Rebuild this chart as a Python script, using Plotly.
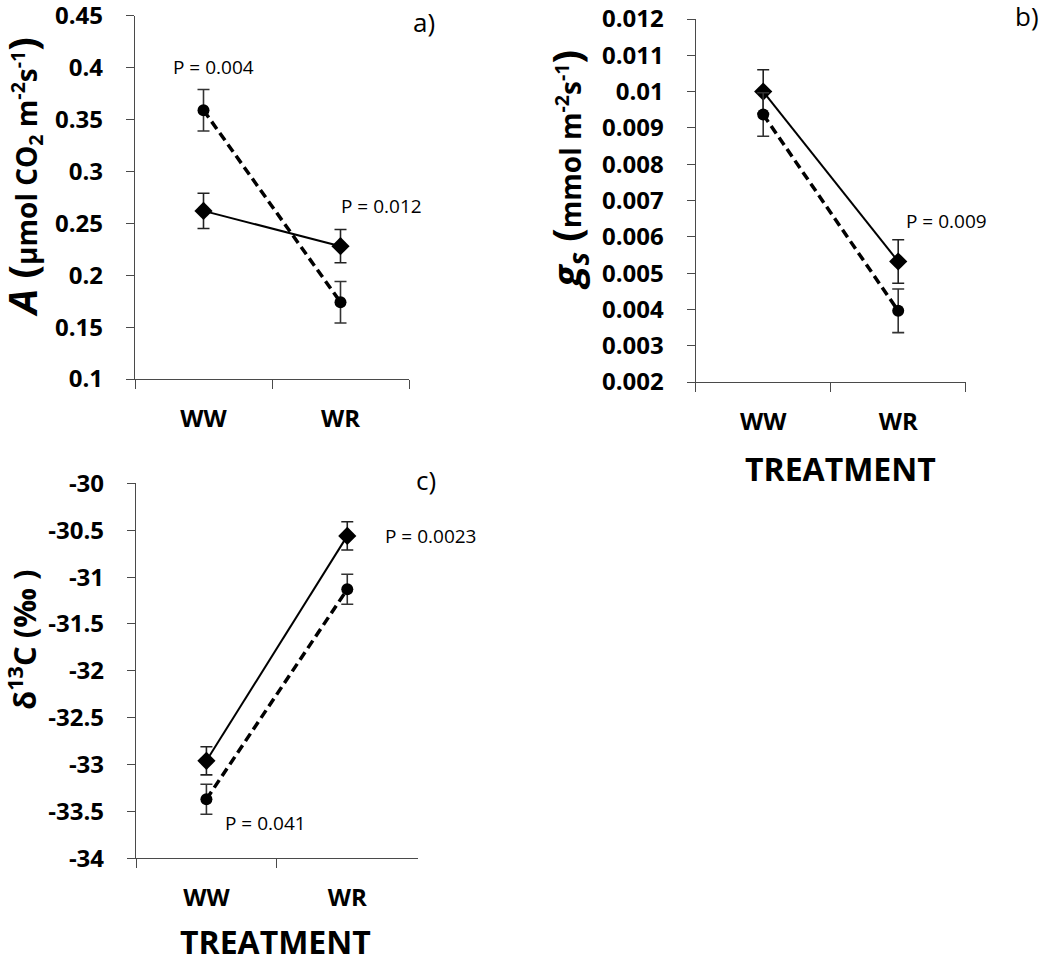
import plotly.graph_objects as go

W, H = 1050, 955

categories = ["WW", "WR"]

# Panel a) net photosynthesis A
A_solid = [0.262, 0.228]
A_solid_err = [0.017, 0.016]
A_dashed = [0.359, 0.174]
A_dashed_err = [0.020, 0.020]

# Panel b) stomatal conductance gs
gs_solid = [0.0100, 0.00532]
gs_solid_err = [0.0006, 0.0006]
gs_dashed = [0.00937, 0.00396]
gs_dashed_err = [0.0006, 0.0006]

# Panel c) delta 13C
d13_solid = [-32.96, -30.56]
d13_solid_err = [0.15, 0.15]
d13_dashed = [-33.37, -31.13]
d13_dashed_err = [0.16, 0.16]

a_ticks = [0.1, 0.15, 0.2, 0.25, 0.3, 0.35, 0.4, 0.45]
a_ticktext = ["0.1", "0.15", "0.2", "0.25", "0.3", "0.35", "0.4", "0.45"]
b_ticks = [0.002, 0.003, 0.004, 0.005, 0.006, 0.007, 0.008, 0.009, 0.010, 0.011, 0.012]
b_ticktext = ["0.002", "0.003", "0.004", "0.005", "0.006", "0.007", "0.008", "0.009", "0.01", "0.011", "0.012"]
c_ticks = [-34, -33.5, -33, -32.5, -32, -31.5, -31, -30.5, -30]
c_ticktext = ["-34", "-33.5", "-33", "-32.5", "-32", "-31.5", "-31", "-30.5", "-30"]

FONT = "Open Sans"
AXCOL = "#4a4a4a"


def px_x(p):
    return p / W


def px_y(p):
    return 1 - p / H


fig = go.Figure()


def add_pair(xa, ya, solid, solid_err, dashed, dashed_err):
    fig.add_trace(go.Scatter(
        x=categories, y=solid, xaxis=xa, yaxis=ya, mode="lines+markers",
        name="solid", showlegend=False,
        line=dict(color="black", width=2),
        marker=dict(symbol="diamond", size=14, color="black"),
        error_y=dict(type="data", array=solid_err, visible=True, color="#222222", thickness=1.6, width=6),
    ))
    fig.add_trace(go.Scatter(
        x=categories, y=dashed, xaxis=xa, yaxis=ya, mode="lines+markers",
        name="dashed", showlegend=False,
        line=dict(color="black", width=3.5, dash="9px,5px"),
        marker=dict(symbol="circle", size=12, color="black"),
        error_y=dict(type="data", array=dashed_err, visible=True, color="#333333", thickness=1.6, width=6),
    ))


add_pair("x", "y", A_solid, A_solid_err, A_dashed, A_dashed_err)
add_pair("x2", "y2", gs_solid, gs_solid_err, gs_dashed, gs_dashed_err)
add_pair("x3", "y3", d13_solid, d13_solid_err, d13_dashed, d13_dashed_err)

xcommon = dict(type="category", categoryorder="array", categoryarray=categories,
               range=[-0.5, 1.5], tickson="boundaries", ticks="outside", ticklen=9,
               tickcolor=AXCOL, tickwidth=1.3, showline=True, linecolor=AXCOL, linewidth=1.3,
               showgrid=False, zeroline=False, ticklabelstandoff=18, automargin=False,
               ticklabeloverflow="allow",
               tickfont=dict(family=FONT, size=24, color="black", weight="bold"))


def ycommon(rng, tv, tt):
    return dict(range=rng, tickvals=tv, ticktext=tt, ticks="outside", ticklen=8,
                tickcolor=AXCOL, tickwidth=1.3, showline=True, linecolor=AXCOL, linewidth=1.3,
                showgrid=False, zeroline=False, ticklabelstandoff=18, automargin=False,
                ticklabeloverflow="allow",
                tickfont=dict(family=FONT, size=24, color="black", weight="bold"))


fig.update_layout(
    width=W, height=H,
    margin=dict(l=0, r=0, t=0, b=0, pad=0),
    paper_bgcolor="white", plot_bgcolor="white",
    showlegend=False,
    xaxis=dict(domain=[px_x(135), px_x(409)], anchor="y", **xcommon),
    yaxis=dict(domain=[px_y(379), px_y(15.7)], anchor="x", **ycommon([0.1, 0.4501], a_ticks, a_ticktext)),
    xaxis2=dict(domain=[px_x(695.7), px_x(965.7)], anchor="y2", **xcommon),
    yaxis2=dict(domain=[px_y(382), px_y(19)], anchor="x2", **ycommon([0.002, 0.01200001], b_ticks, b_ticktext)),
    xaxis3=dict(domain=[px_x(136), px_x(417.7)], anchor="y3", **xcommon),
    yaxis3=dict(domain=[px_y(858.3), px_y(483.3)], anchor="x3", **ycommon([-34, -29.999], c_ticks, c_ticktext)),
)

ann = []


def text(x, y, t, size, angle=0, bold=False):
    ann.append(dict(x=px_x(x), y=px_y(y), xref="paper", yref="paper", text=t, showarrow=False,
                    textangle=angle, xanchor="center", yanchor="middle",
                    font=dict(family=FONT, size=size, color="black",
                              weight="bold" if bold else "normal")))


# panel letters
text(424, 22, "a)", 26)
text(1027, 16, "b)", 26)
text(426, 480, "c)", 26)

# P values
text(213, 67, "P = 0.004", 19)
text(381, 206, "P = 0.012", 19)
text(946, 221, "P = 0.009", 19)
text(430, 536, "P = 0.0023", 19)
text(265, 823, "P = 0.041", 19)

# axis titles
text(22, 177, "<span style='font-size:40px'><i>A</i> (</span>µmol CO<sub>2</sub> m<sup>-2</sup>s<sup>-1</sup><span style='font-size:40px'>)</span>", 28, angle=-90, bold=True)
text(568, 170, "<span style='font-size:40px'><i>g<sub>s</sub></i> (</span>mmol m<sup>-2</sup>s<sup>-1</sup><span style='font-size:40px'>)</span>", 28, angle=-90, bold=True)
text(22, 640, "δ<sup>13</sup>C (‰ )", 31, angle=-90, bold=True)
text(840, 468, "TREATMENT", 32, bold=True)
text(275, 941, "TREATMENT", 32, bold=True)

fig.update_layout(annotations=ann)

fig.write_html("out.html", config={"displayModeBar": False},
               post_script="document.body.style.margin='0';")
